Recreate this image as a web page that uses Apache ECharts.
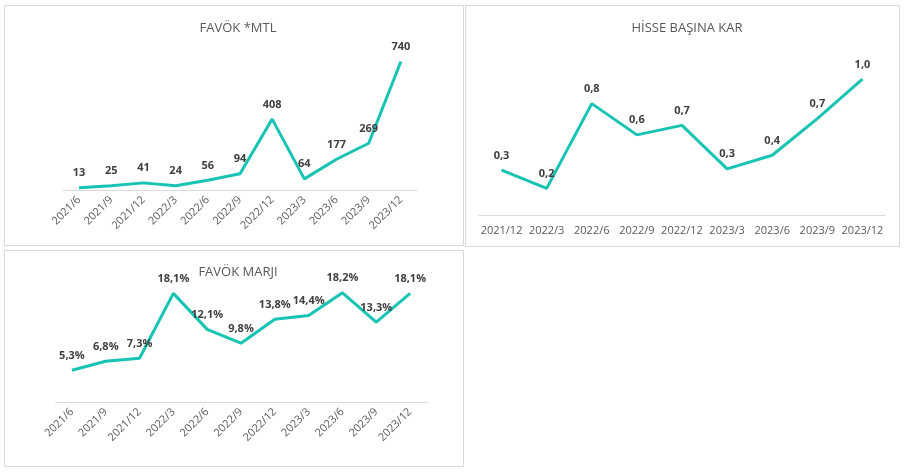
<!DOCTYPE html>
<html><head><meta charset="utf-8">
<script src="https://cdn.jsdelivr.net/npm/echarts@6/dist/echarts.min.js"></script>
<style>html,body{margin:0;padding:0;background:#fff}#c{width:908px;height:475px}</style>
</head><body><div id="c"></div>
<script>
const favokCats = ['2021/6','2021/9','2021/12','2022/3','2022/6','2022/9','2022/12','2023/3','2023/6','2023/9','2023/12'];
const favokVals = [13,25,41,24,56,94,408,64,177,269,740];
const hbkCats = ['2021/12','2022/3','2022/6','2022/9','2022/12','2023/3','2023/6','2023/9','2023/12'];
const hbkVals = [0.33,0.196,0.82,0.59,0.66,0.34,0.44,0.71,1.0];
const marjCats = ['2021/6','2021/9','2021/12','2022/3','2022/6','2022/9','2022/12','2023/3','2023/6','2023/9','2023/12'];
const marjVals = [5.3,6.8,7.3,18.1,12.1,9.8,13.8,14.4,18.2,13.3,18.1];

const FONT = 'Open Sans';
const LINE = '#17c3b2';
const chart = echarts.init(document.getElementById('c'));
function xa(idx, cats, rot){
  return {type:'category', gridIndex:idx, data:cats, boundaryGap:true,
    axisLine:{lineStyle:{color:'#d9d9d9', width:1}}, axisTick:{show:false},
    axisLabel:{color:'#595959', fontFamily:FONT, fontSize:11, rotate:rot, interval:0, margin:rot?8:10}};
}
function ya(idx, max){
  return {type:'value', gridIndex:idx, min:0, max:max, show:false, splitLine:{show:false}};
}
function ser(idx, vals, fmt){
  return {type:'line', xAxisIndex:idx, yAxisIndex:idx, data:vals, symbol:'circle', symbolSize:0.1, showSymbol:true,
    lineStyle:{color:LINE, width:3}, itemStyle:{color:LINE}, animation:false,
    label:{show:true, position:'top', distance:9, color:'#404040', fontWeight:'bold', fontFamily:FONT, fontSize:11, formatter:fmt}};
}
const ttl = (text, left, top) => ({text, left, top, textAlign:'center',
  textStyle:{color:'#595959', fontFamily:FONT, fontSize:13, fontWeight:'normal'}});
chart.setOption({
  animation:false,
  title:[ttl('FAVÖK *MTL',233,17), ttl('HİSSE BAŞINA KAR',682,17), ttl('FAVÖK MARJI',233,261)],
  grid:[
    {left:63, top:51, width:354, height:139},
    {left:479, top:52, width:406, height:163},
    {left:55, top:282, width:372, height:120}
  ],
  xAxis:[xa(0,favokCats,45), xa(1,hbkCats,0), xa(2,marjCats,45)],
  yAxis:[ya(0,800), ya(1,1.2), ya(2,20)],
  series:[
    ser(0,favokVals, p=>String(p.value)),
    ser(1,hbkVals, p=>p.value.toFixed(1).replace('.',',')),
    ser(2,marjVals, p=>p.value.toFixed(1).replace('.',',')+'%')
  ],
  graphic:[
    {type:'rect', shape:{x:4.5,y:5.5,width:459,height:240}, style:{fill:'none',stroke:'#d9d9d9',lineWidth:1}},
    {type:'rect', shape:{x:465.5,y:5.5,width:434,height:241}, style:{fill:'none',stroke:'#d9d9d9',lineWidth:1}},
    {type:'rect', shape:{x:4.5,y:250.5,width:459,height:216}, style:{fill:'none',stroke:'#d9d9d9',lineWidth:1}}
  ]
});
</script></body></html>
